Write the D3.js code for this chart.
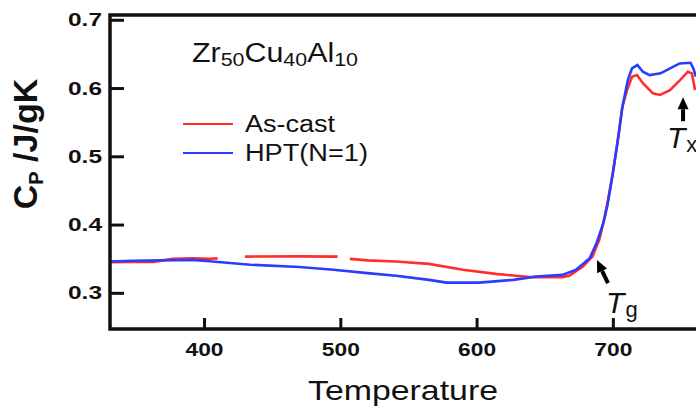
<!DOCTYPE html>
<html>
<head>
<meta charset="utf-8">
<script src="https://cdn.jsdelivr.net/npm/d3@7"></script>
<style>
body { margin: 0; background: #fff; }
text { font-family: "Liberation Sans", Arial, sans-serif; fill: #111; }
</style>
</head>
<body>
<svg id="chart" width="696" height="410"></svg>
<script>
// ---- data ----
var tempBlue = [331, 348, 392, 404, 434, 470, 495, 520, 541, 565, 578, 602, 627, 644, 663, 673, 683, 688, 693, 696, 700, 704, 707, 711, 714, 718, 722, 727, 735, 742, 749, 757, 759, 761];
var cpBlue   = [0.3458, 0.3470, 0.3482, 0.3462, 0.3412, 0.3378, 0.3337, 0.3288, 0.3249, 0.3190, 0.3150, 0.3150, 0.3190, 0.3239, 0.3263, 0.3337, 0.3508, 0.3727, 0.4020, 0.4280, 0.4756, 0.5287, 0.5727, 0.6117, 0.6288, 0.6337, 0.6239, 0.6190, 0.6215, 0.6288, 0.6360, 0.6370, 0.6290, 0.6166];

// null = gap in the red trace
var tempRed = [331, 348, 363, 377, 392, 404, 410, 420, 430, 470, 498, 503, 507, 520, 541, 565, 590, 614, 639, 663, 668, 678, 685, 690, 693.5, 696.4, 700, 704, 707, 710.4, 714, 717.7, 722, 729.4, 734.6, 741.9, 749.3, 755, 758, 760.3];
var cpRed   = [0.3449, 0.3452, 0.3454, 0.3500, 0.3505, 0.3500, 0.3505, null, 0.3531, 0.3534, 0.3531, null, 0.3497, 0.3475, 0.3458, 0.3424, 0.3337, 0.3278, 0.3230, 0.3230, 0.3249, 0.3385, 0.3530, 0.3776, 0.4068, 0.4360, 0.4756, 0.5287, 0.5727, 0.5970, 0.6166, 0.6190, 0.6070, 0.5922, 0.5898, 0.5970, 0.6117, 0.6239, 0.6215, 0.5970];

var xTickValues = [400, 500, 600, 700];
var yTickValues = [0.3, 0.4, 0.5, 0.6, 0.7];

var seriesNames = ["As-cast", "HPT(N=1)"];
var seriesColors = ["#ff2d2d", "#2c3cff"];

var svg = d3.select("#chart");

var plotLeft = 110, plotRight = 696, plotTop = 15, plotBottom = 329;

var x = d3.scaleLinear().domain([331, 761]).range([plotLeft, plotRight]);
var y = d3.scaleLinear().domain([0.247, 0.707]).range([plotBottom, plotTop]);

function stretch(sel, w) {
    sel.attr("textLength", w).attr("lengthAdjust", "spacingAndGlyphs");
}

// ---- curves ----
var lineDraw = d3.line()
    .defined(function(d) { return d.cp != null; })
    .x(function(d) { return x(d.t); })
    .y(function(d) { return y(d.cp); });

var redData = tempRed.map(function(t, i) { return { t: t, cp: cpRed[i] }; });
var blueData = tempBlue.map(function(t, i) { return { t: t, cp: cpBlue[i] }; });

svg.append("path")
    .attr("d", lineDraw(redData))
    .attr("fill", "none")
    .attr("stroke", seriesColors[0])
    .attr("stroke-width", 2.6);

svg.append("path")
    .attr("d", lineDraw(blueData))
    .attr("fill", "none")
    .attr("stroke", seriesColors[1])
    .attr("stroke-width", 2.6);

// ---- axes ----
var yAxis = svg.append("g")
    .attr("transform", "translate(" + plotLeft + ",0)")
    .call(d3.axisLeft(y)
        .tickValues(yTickValues)
        .tickSize(-14)
        .tickPadding(8)
        .tickFormat(d3.format(".1f")));
yAxis.select(".domain").remove();
yAxis.selectAll("line").attr("stroke", "#111").attr("stroke-width", 3);
yAxis.selectAll("text")
    .style("font-family", "'Liberation Sans', Arial, sans-serif")
    .style("font-size", "19px")
    .style("font-weight", "bold")
    .attr("fill", "#111")
    .call(stretch, 34);

var xAxis = svg.append("g")
    .attr("transform", "translate(0," + plotBottom + ")")
    .call(d3.axisBottom(x)
        .tickValues(xTickValues)
        .tickSize(-11)
        .tickPadding(14)
        .tickFormat(d3.format("d")));
xAxis.select(".domain").remove();
xAxis.selectAll("line").attr("stroke", "#111").attr("stroke-width", 3);
xAxis.selectAll("text")
    .style("font-family", "'Liberation Sans', Arial, sans-serif")
    .style("font-size", "19px")
    .style("font-weight", "bold")
    .attr("fill", "#222")
    .call(stretch, 38);

// frame: left, bottom, top
svg.append("path")
    .attr("d", "M" + plotRight + "," + plotTop + "H" + plotLeft + "V" + plotBottom + "H" + plotRight)
    .attr("fill", "none")
    .attr("stroke", "#111")
    .attr("stroke-width", 3.5);

// ---- axis titles ----
var yTitle = svg.append("text")
    .attr("transform", "translate(37,144) rotate(-90)")
    .attr("text-anchor", "middle")
    .style("font-size", "34px")
    .style("font-weight", "bold");
yTitle.append("tspan").text("C");
yTitle.append("tspan").attr("dy", 6).style("font-size", "20px").text("P");
yTitle.append("tspan").attr("dy", -6).text("\u00a0/J/gK");

svg.append("text")
    .attr("x", 308)
    .attr("y", 400)
    .style("font-size", "28px")
    .text("Temperature")
    .call(stretch, 190);

// ---- composition label ----
var comp = svg.append("text")
    .attr("x", 192)
    .attr("y", 62)
    .style("font-size", "27px");
[["Zr", "50"], ["Cu", "40"], ["Al", "10"]].forEach(function(p, i) {
    comp.append("tspan").attr("dy", i ? -4 : 0).text(p[0]);
    comp.append("tspan").attr("dy", 4).style("font-size", "19px").text(p[1]);
});
comp.call(stretch, 166);

// ---- legend ----
var legend = svg.append("g")
    .selectAll("g")
    .data(seriesNames)
    .enter().append("g")
    .attr("transform", function(d, i) { return "translate(183," + (124 + i * 29) + ")"; });

legend.append("line")
    .attr("x1", 0).attr("x2", 50)
    .attr("stroke", function(d, i) { return seriesColors[i]; })
    .attr("stroke-width", 2.2);

legend.append("text")
    .attr("x", 62)
    .attr("y", 8)
    .style("font-size", "23px")
    .text(function(d) { return d; })
    .each(function(d, i) { d3.select(this).call(stretch, i ? 123 : 90); });

// ---- Tg / Tx annotations (data coordinates) ----
var arrows = [
    { from: [696.4, 0.3143], to: [688.3, 0.348] },
    { from: [751.5, 0.5514], to: [751.5, 0.5865] }
];
var marks = [
    { t: 695, cp: 0.2704, sub: "g" },
    { t: 739.7, cp: 0.5119, sub: "x" }
];

arrows.forEach(function(a) {
    var x0 = x(a.from[0]), y0 = y(a.from[1]);
    var x1 = x(a.to[0]), y1 = y(a.to[1]);
    var dx = x1 - x0, dy = y1 - y0, len = Math.sqrt(dx * dx + dy * dy);
    var ux = dx / len, uy = dy / len;
    var hl = 12, hw = 5.5;
    var bx = x1 - ux * hl, by = y1 - uy * hl;
    svg.append("line")
        .attr("x1", x0).attr("y1", y0)
        .attr("x2", bx).attr("y2", by)
        .attr("stroke", "#000")
        .attr("stroke-width", 4);
    svg.append("path")
        .attr("d", "M" + x1 + "," + y1 +
            "L" + (bx - uy * hw) + "," + (by + ux * hw) +
            "L" + (bx + uy * hw) + "," + (by - ux * hw) + "Z")
        .attr("fill", "#000");
});

marks.forEach(function(m) {
    var t = svg.append("text")
        .attr("x", x(m.t))
        .attr("y", y(m.cp))
        .style("font-size", "30px")
        .style("font-style", "italic");
    t.append("tspan").text("T");
    t.append("tspan")
        .attr("dx", 1)
        .attr("dy", 4)
        .style("font-size", "22px")
        .style("font-style", "normal")
        .text(m.sub);
});
</script>
</body>
</html>
